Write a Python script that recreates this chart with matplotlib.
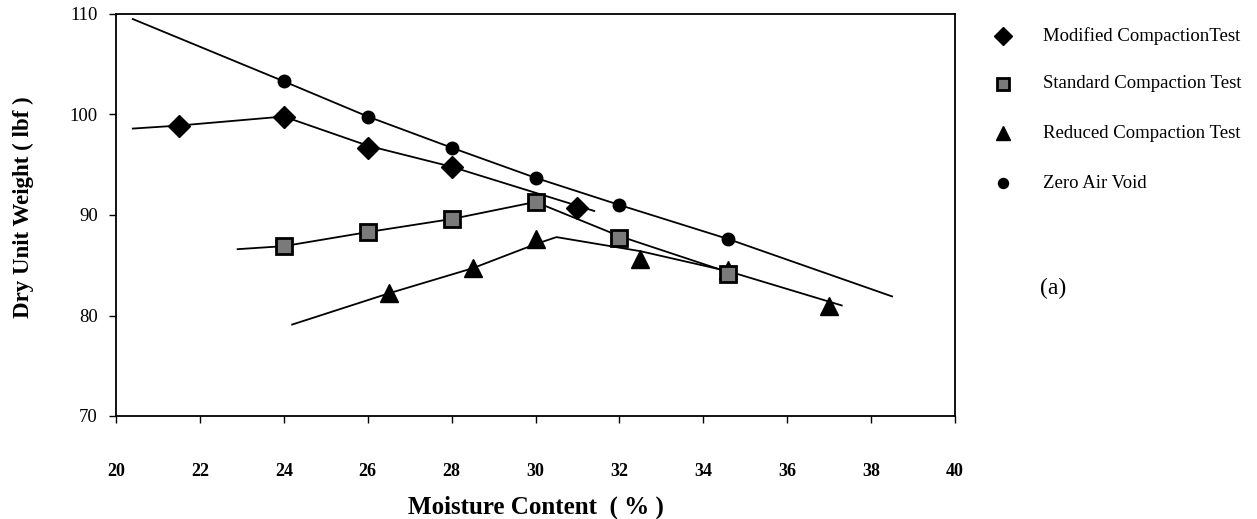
import matplotlib
matplotlib.use("Agg")
import matplotlib.pyplot as plt
from matplotlib.lines import Line2D

plt.rcParams['font.family'] = ['Liberation Serif', 'DejaVu Serif']

# Measured points: moisture content (%) and dry unit weight
mod_x = [21.5, 24, 26, 28, 31]
mod_y = [98.9, 99.8, 96.7, 94.8, 90.7]

std_x = [24, 26, 28, 30, 32, 34.6]
std_y = [86.9, 88.3, 89.6, 91.3, 87.7, 84.1]

red_x = [26.5, 28.5, 30, 32.5, 34.6, 37]
red_y = [82.2, 84.7, 87.65, 85.6, 84.5, 80.9]

zav_x = [24, 26, 28, 30, 32, 34.6]
zav_y = [103.3, 99.8, 96.7, 93.7, 91.0, 87.6]

# Hand-drawn fitted curves through each data set
mod_fit_x = [20.4, 21.5, 24, 26, 28, 31.4]
mod_fit_y = [98.6, 98.9, 99.8, 96.9, 94.8, 90.4]

std_fit_x = [22.9, 24, 26, 28, 30, 32, 34.6]
std_fit_y = [86.6, 86.9, 88.3, 89.6, 91.3, 87.9, 84.3]

red_fit_x = [24.2, 26.5, 28.5, 30.0, 30.5, 32.5, 34.6, 37.3]
red_fit_y = [79.1, 82.2, 84.7, 87.1, 87.8, 86.4, 84.4, 81.0]

zav_fit_x = [20.4, 24, 26, 28, 30, 32, 34.6, 38.5]
zav_fit_y = [109.5, 103.3, 99.8, 96.7, 93.7, 91.0, 87.6, 81.9]

x_ticks = [20, 22, 24, 26, 28, 30, 32, 34, 36, 38, 40]
y_ticks = [70, 80, 90, 100, 110]

legend_labels = ["Modified CompactionTest", "Standard Compaction Test",
                 "Reduced Compaction Test", "Zero Air Void"]

fig = plt.figure(figsize=(12.57, 5.19), dpi=100)
ax = fig.add_axes([116 / 1257, 1 - 416 / 519, (955 - 116) / 1257, (416 - 14) / 519])

lw = 1.3
ax.plot(zav_fit_x, zav_fit_y, color='black', lw=lw)
ax.plot(mod_fit_x, mod_fit_y, color='black', lw=lw)
ax.plot(std_fit_x, std_fit_y, color='black', lw=lw)
ax.plot(red_fit_x, red_fit_y, color='black', lw=lw)

dia = dict(marker='D', ms=11.5, mfc='black', mec='black', ls='none')
sq = dict(marker='s', ms=11, mfc='#7a7a7a', mec='black', mew=2.0, ls='none')
tri = dict(marker='^', ms=12.5, mfc='black', mec='black', ls='none')
circ = dict(marker='o', ms=9, mfc='black', mec='black', ls='none')

ax.plot(zav_x, zav_y, **circ)
ax.plot(mod_x, mod_y, **dia)
ax.plot(red_x, red_y, **tri)
ax.plot(std_x, std_y, **sq)

ax.set_xlim(20, 40)
ax.set_ylim(70, 110)
ax.set_xticks(x_ticks)
ax.set_yticks(y_ticks)
for s in ax.spines.values():
    s.set_linewidth(1.3)
ax.tick_params(axis='y', direction='out', length=5, width=1, pad=8, labelsize=13.5)
ax.tick_params(axis='x', direction='out', length=5, width=1, pad=29, labelsize=13)
for t in ax.get_xticklabels():
    t.set_fontweight('bold')

ax.set_ylabel("Dry Unit Weight ( lbf )", fontsize=16.5, fontweight='bold')
ax.yaxis.set_label_coords(-0.098, 0.52)
ax.set_xlabel("Moisture Content  ( % )", fontsize=18, fontweight='bold')
ax.xaxis.set_label_coords(0.5, -0.198)

# Legend on the right, drawn in figure coordinates
handles = [dia, sq, tri, circ]
rows_y = [36, 84, 133, 183]
for h, lab, yy in zip(handles, legend_labels, rows_y):
    fy = 1 - yy / 519
    style = dict(h)
    style['ms'] = style['ms'] * 0.8
    fig.add_artist(Line2D([1003 / 1257], [fy], transform=fig.transFigure, **style))
    fig.text(1043 / 1257, fy, lab, fontsize=13.5, va='center', ha='left')

fig.text(1040 / 1257, 1 - 288 / 519, "(a)", fontsize=17, va='center', ha='left')

fig.savefig("out.png", dpi=100)
